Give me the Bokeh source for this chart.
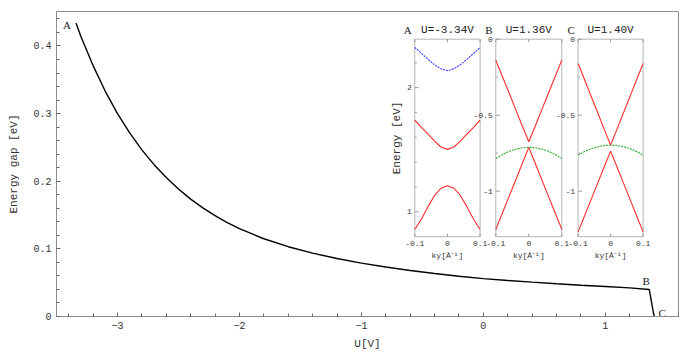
import math
from bokeh.plotting import figure
from bokeh.models import Range1d, SingleIntervalTicker
from bokeh.core.properties import value
from bokeh.embed import file_html
from bokeh.resources import INLINE

# ---------------- data: main curve ----------------
U_volts = [-3.34, -3.3, -3.2, -3.1, -3.0, -2.9, -2.8, -2.7, -2.6, -2.5, -2.4, -2.3, -2.2, -2.1,
           -2.0, -1.8, -1.6, -1.4, -1.2, -1.0, -0.8, -0.6, -0.4, -0.2, 0.0, 0.2, 0.4, 0.6,
           0.8, 1.0, 1.2, 1.36, 1.40]
gap_eV = [0.434, 0.414, 0.371, 0.333, 0.300, 0.2714, 0.2464, 0.2245, 0.2054, 0.1885, 0.1736, 0.1606,
          0.1491, 0.1389, 0.1299, 0.1150, 0.1032, 0.0937, 0.0858, 0.0790, 0.0732, 0.0681, 0.0636,
          0.0596, 0.0560, 0.0533, 0.0508, 0.0485, 0.0463, 0.0443, 0.0424, 0.040, 0.0]
point_names = ["A", "B", "C"]
point_U = [-3.34, 1.36, 1.40]
point_gap = [0.434, 0.040, 0.0]

# ---------------- data: insets ----------------
k_vals = [-0.1, -0.08, -0.06, -0.04, -0.02, 0.0, 0.02, 0.04, 0.06, 0.08, 0.1]
A_blue = [2.323, 2.276, 2.229, 2.185, 2.152, 2.137, 2.152, 2.185, 2.229, 2.276, 2.323]
A_red_mid = [1.739, 1.681, 1.627, 1.572, 1.522, 1.503, 1.522, 1.572, 1.627, 1.681, 1.739]
A_red_low = [0.858, 0.940, 1.040, 1.130, 1.190, 1.210, 1.190, 1.130, 1.040, 0.940, 0.858]
B_red_up = [-0.138, -0.245, -0.352, -0.460, -0.570, -0.675, -0.570, -0.460, -0.352, -0.245, -0.138]
B_red_low = [-1.252, -1.144, -1.036, -0.928, -0.820, -0.712, -0.820, -0.928, -1.036, -1.144, -1.252]
B_green = [-0.785, -0.759, -0.738, -0.724, -0.715, -0.712, -0.715, -0.724, -0.738, -0.759, -0.785]
C_red_up = [-0.160, -0.267, -0.375, -0.482, -0.590, -0.697, -0.590, -0.482, -0.375, -0.267, -0.160]
C_red_low = [-1.268, -1.162, -1.056, -0.949, -0.843, -0.737, -0.843, -0.949, -1.056, -1.162, -1.268]
C_green = [-0.763, -0.739, -0.721, -0.708, -0.700, -0.697, -0.700, -0.708, -0.721, -0.739, -0.763]

panel_letters = ["A", "B", "C"]
panel_titles = ["U=-3.34V", "U=1.36V", "U=1.40V"]
k_lim = [-0.1, 0.1]
A_E_lim = [0.80, 2.39]
BC_E_lim = [-1.30, 0.0]
k_ticks = [-0.1, 0.0, 0.1]
k_tick_labels = ["-0.1", "0", "0.1"]
A_E_ticks = [1.0, 2.0]
A_E_tick_labels = ["1", "2"]
A_E_minor = [1.2, 1.4, 1.6, 1.8, 2.2]
BC_E_ticks = [0.0, -0.5, -1.0]
BC_E_tick_labels = ["0", "-0.5", "-1"]
BC_E_minor = [-0.25, -0.75, -1.25]

# ---------------- layout constants ----------------
FW, FH = 622, 305
MONO = value("Liberation Mono")
SERIF = value("Liberation Serif")

p = figure(frame_width=FW, frame_height=FH, x_range=Range1d(-3.5, 1.6), y_range=Range1d(0, 0.451),
           output_backend="svg", toolbar_location=None,
           min_border_left=56, min_border_right=7, min_border_top=11, min_border_bottom=39)
p.background_fill_color = "white"
p.border_fill_color = "white"
p.outline_line_color = "#8c8c8c"
p.xgrid.visible = False
p.ygrid.visible = False

p.xaxis.ticker = SingleIntervalTicker(interval=1, num_minor_ticks=5)
p.yaxis.ticker = SingleIntervalTicker(interval=0.1, num_minor_ticks=5)
p.yaxis.major_label_overrides = {0: "0"}
for ax in (p.xaxis[0], p.yaxis[0]):
    ax.axis_line_color = "#8c8c8c"
    ax.major_tick_line_color = "#666666"
    ax.minor_tick_line_color = "#666666"
    ax.major_tick_in = 4
    ax.major_tick_out = 0
    ax.minor_tick_in = 3
    ax.minor_tick_out = 0
    ax.major_label_text_font = "Liberation Mono"
    ax.major_label_text_font_size = "10px"
    ax.major_label_text_color = "#333333"
    ax.axis_label_text_font = "Liberation Mono"
    ax.axis_label_text_font_size = "11px"
    ax.axis_label_text_font_style = "normal"
    ax.axis_label_text_color = "#333333"
    ax.major_label_standoff = 5
p.xaxis.axis_label = "U[V]"
p.yaxis.axis_label = "Energy gap [eV]"
p.xaxis.axis_label_standoff = 6
p.yaxis.axis_label_standoff = 10

p.line(U_volts, gap_eV, line_color="black", line_width=1.4)
p.text(x=point_U, y=point_gap, text=point_names, x_offset=[-9, -3, 8], y_offset=[2, -8, -4],
       text_align="center", text_baseline="middle", text_font=SERIF,
       text_font_size="11px", text_color="#222222")

# ---------------- insets via extra ranges ----------------
def sub_range(d0, d1, p0, p1, total):
    s = (d1 - d0) / (p1 - p0)
    return Range1d(d0 - p0 * s, d0 + (total - p0) * s)

y_box = (79.8, 277.3)
x_boxes = {"A": (358.3, 423.6), "B": (439.3, 505.3), "C": (521.6, 586.6)}
p.extra_x_ranges = {n: sub_range(k_lim[0], k_lim[1], b[0], b[1], FW) for n, b in x_boxes.items()}
p.extra_y_ranges = {"A": sub_range(A_E_lim[0], A_E_lim[1], y_box[0], y_box[1], FH),
                    "BC": sub_range(BC_E_lim[0], BC_E_lim[1], y_box[0], y_box[1], FH)}

panels = [
    ("A", "A", A_E_lim, A_E_ticks, A_E_tick_labels, A_E_minor,
     [(A_blue, "#3b3bff", "2 1"), (A_red_mid, "#ff2b2b", "solid"), (A_red_low, "#ff2b2b", "solid")]),
    ("B", "BC", BC_E_lim, BC_E_ticks, BC_E_tick_labels, BC_E_minor,
     [(B_red_up, "#ff2b2b", "solid"), (B_red_low, "#ff2b2b", "solid"), (B_green, "#2fa82f", "2 1")]),
    ("C", "BC", BC_E_lim, BC_E_ticks, BC_E_tick_labels, BC_E_minor,
     [(C_red_up, "#ff2b2b", "solid"), (C_red_low, "#ff2b2b", "solid"), (C_green, "#2fa82f", "2 1")]),
]

for i, (xn, yn, elim, eticks, elabels, eminor, curves) in enumerate(panels):
    kw = dict(x_range_name=xn, y_range_name=yn)
    p.quad(left=[k_lim[0]], right=[k_lim[1]], bottom=[elim[0]], top=[elim[1]],
           fill_color="white", line_color="#b4b4b4", line_width=1, **kw)
    for ys, col, dash in curves:
        p.line(k_vals, ys, line_color=col, line_width=1.1, line_dash=dash, **kw)
    # y ticks (inside)
    p.ray(x=[k_lim[0]] * len(eticks), y=eticks, length=4, length_units="screen", angle=0,
          line_color="#999999", line_width=1, **kw)
    p.ray(x=[k_lim[0]] * len(eminor), y=eminor, length=2, length_units="screen", angle=0,
          line_color="#999999", line_width=1, **kw)
    # x ticks (inside, bottom and top)
    p.ray(x=k_ticks, y=[elim[0]] * len(k_ticks), length=3, length_units="screen", angle=math.pi / 2,
          line_color="#999999", line_width=1, **kw)
    p.ray(x=k_ticks, y=[elim[1]] * len(k_ticks), length=3, length_units="screen", angle=-math.pi / 2,
          line_color="#999999", line_width=1, **kw)
    # tick labels
    p.text(x=[k_lim[0]] * len(eticks), y=eticks, text=elabels, x_offset=-3,
           text_align="right", text_baseline="middle", text_font=MONO,
           text_font_size="8px", text_color="#333333", **kw)
    p.text(x=k_ticks, y=[elim[0]] * len(k_ticks), text=k_tick_labels, y_offset=4,
           text_align="center", text_baseline="top", text_font=MONO,
           text_font_size="8px", text_color="#333333", **kw)
    # x label
    p.text(x=[0.0], y=[elim[0]], text=["ky[Å⁻¹]"], y_offset=14,
           text_align="center", text_baseline="top", text_font=MONO,
           text_font_size="8px", text_color="#333333", **kw)
    # titles
    p.text(x=[0.0], y=[elim[1]], text=[panel_titles[i]], y_offset=-3,
           text_align="center", text_baseline="bottom", text_font=MONO,
           text_font_size="11px", text_color="#222222", **kw)
    p.text(x=[k_lim[0]], y=[elim[1]], text=[panel_letters[i]], x_offset=-7, y_offset=-3,
           text_align="center", text_baseline="bottom", text_font=SERIF,
           text_font_size="11px", text_color="#222222", **kw)

p.text(x=[k_lim[0]], y=[sum(A_E_lim) / 2], text=["Energy [eV]"], x_offset=-18, angle=math.pi / 2,
       text_align="center", text_baseline="middle", text_font=MONO,
       text_font_size="11px", text_color="#333333", x_range_name="A", y_range_name="A")

open("out.html", "w").write(file_html(p, INLINE))
